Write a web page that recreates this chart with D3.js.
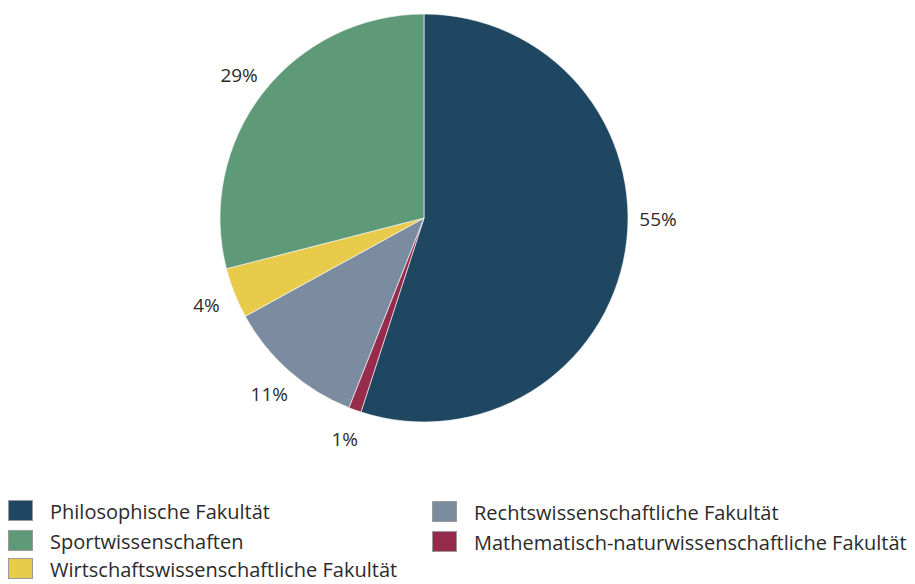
<!DOCTYPE html>
<html lang="de">
<head>
<meta charset="UTF-8">
<style>
  * { margin: 0; padding: 0; }
  body { background: #fff; overflow: hidden; }
</style>
</head>
<body>
<div id="chart"></div>
<script src="https://cdn.jsdelivr.net/npm/d3@7"></script>
<script>
const categories = ['Philosophische Fakultät', 'Mathematisch-naturwissenschaftliche Fakultät', 'Rechtswissenschaftliche Fakultät', 'Wirtschaftswissenschaftliche Fakultät', 'Sportwissenschaften']
const values = [55, 1, 11, 4, 29]
const colors = ['#1f4761', '#962b4c', '#7b8ba0', '#e8cb4b', '#5e9a78']
// legend order as in the picture
const legendOrder = ['Philosophische Fakultät', 'Sportwissenschaften', 'Wirtschaftswissenschaftliche Fakultät', 'Rechtswissenschaftliche Fakultät', 'Mathematisch-naturwissenschaftliche Fakultät']

const width = 915
const height = 584
const cx = 424, cy = 218, r = 204

const svg = d3.select('#chart').append('svg')
  .attr('width', width).attr('height', height)
  .style('font-family', '"Open Sans", sans-serif')

const color = d3.scaleOrdinal().domain(categories).range(colors)
const data = categories.map((c, i) => ({ name: c, value: values[i] }))
const pie = d3.pie().value(d => d.value).sort(null)
const arcs = pie(data)
const arc = d3.arc().innerRadius(0).outerRadius(r)

const g = svg.append('g').attr('transform', `translate(${cx},${cy})`)
g.selectAll('path').data(arcs).join('path')
  .attr('d', arc)
  .attr('fill', d => color(d.data.name))
  .attr('stroke', '#fff').attr('stroke-width', 0.6)

const labelR = 234
g.selectAll('text').data(arcs).join('text')
  .attr('transform', d => {
    let a = (d.startAngle + d.endAngle) / 2
    if (d.endAngle - d.startAngle > Math.PI) a = Math.PI / 2
    return `translate(${Math.sin(a) * labelR},${-Math.cos(a) * labelR})`
  })
  .attr('text-anchor', 'middle').attr('dy', '0.4em')
  .attr('font-size', 19).attr('fill', '#2b2b2b')
  .text(d => d.data.value + '%')

// legend
const colX = [8, 432]
const rowY = [500, 530, 558]
const leg = svg.append('g')
legendOrder.forEach((name, i) => {
  const col = i < 3 ? 0 : 1
  const row = i < 3 ? i : i - 3
  const item = leg.append('g').attr('transform', `translate(${colX[col]},${rowY[row] + (col ? 1 : 0)})`)
  item.append('rect').attr('x', 0.5).attr('y', 0.5).attr('width', 24).attr('height', 20)
    .attr('fill', color(name)).attr('stroke', '#9a9a9a').attr('stroke-width', 1)
  item.append('text').attr('x', 42).attr('y', 19)
    .attr('font-size', 20).attr('fill', '#2b2b2b')
    .text(name)
})
</script>
</body>
</html>
